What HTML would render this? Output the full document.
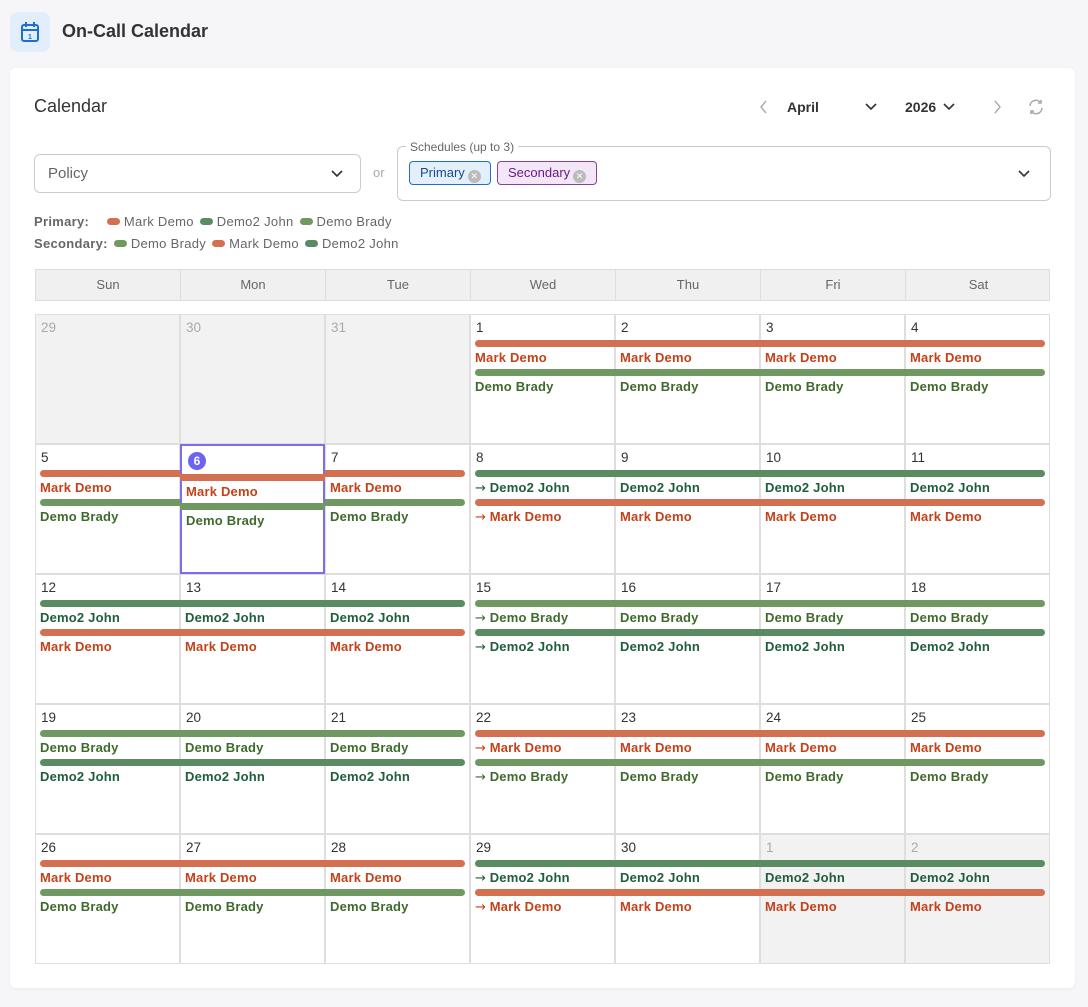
<!DOCTYPE html>
<html><head><meta charset="utf-8"><style>
*{box-sizing:border-box;margin:0;padding:0}
body{width:1088px;height:1007px;background:#f6f6f8;font-family:"Liberation Sans",sans-serif;position:relative;overflow:hidden;color:#333}
.abs{position:absolute}
.card{left:10px;top:68px;width:1065px;height:920px;background:#fff;border-radius:6px;box-shadow:0 1px 3px rgba(0,0,0,.06)}
.hdr{left:35px;top:269px;width:1015px;height:32px;display:grid;grid-template-columns:repeat(7,145px);background:#f0f0f0;border:1px solid #ddd}
.hdr div{border-right:1px solid #ddd;text-align:center;font-size:13px;color:#666;line-height:30px}
.hdr div:last-child{border-right:none}
.grid{left:35px;top:314px;width:1015px;display:grid;grid-template-columns:repeat(7,145px);grid-auto-rows:130px}
.c{border:1px solid #dedede;position:relative;background:#fff}
.c.o{background:#f2f2f2}
.d{position:absolute;left:5px;top:5px;font-size:13.5px;color:#333}
.o .d{color:#aaa}
.b{position:absolute;height:7px;left:-1px;right:-1px}
.b.s{left:4px;border-top-left-radius:4px;border-bottom-left-radius:4px}
.b.e{right:4px;border-top-right-radius:4px;border-bottom-right-radius:4px}
.b1{top:25px}.b2{top:54px}
.t{position:absolute;left:4px;font-size:13px;font-weight:bold;white-space:nowrap;letter-spacing:0.2px}
.t1{top:35px}.t2{top:64px}
.t a{font-family:"DejaVu Sans",sans-serif;font-weight:normal;font-size:13px;letter-spacing:0}
.M{background:#d37052}.J{background:#5b8b63}.B{background:#6f9862}
.tM{color:#c4421a}.tJ{color:#1f5d3b}.tB{color:#3e6a2c}
.leg{font-size:13px;color:#666;letter-spacing:0.3px}
.dot{display:inline-block;width:13px;height:7px;border-radius:4px;margin:0 4px 0 6px;vertical-align:1px}
.tag{position:absolute;top:161px;height:24px;border-radius:4px;font-size:13px;line-height:22px;padding-left:10px}
.x{display:inline-block;width:13px;height:13px;border-radius:50%;background:#bbb;color:#fff;font-size:9px;line-height:13px;text-align:center;margin-left:3px;vertical-align:-2px}
</style></head><body>
<div class="abs" style="left:10px;top:12px;width:40px;height:40px;background:#e2eefb;border-radius:8px"></div>
<svg class="abs" style="left:20px;top:21px" width="20" height="22" viewBox="0 0 20 22"><rect x="2" y="4" width="16" height="16" rx="2" fill="none" stroke="#1c6fd1" stroke-width="2"/><line x1="2" y1="9" x2="18" y2="9" stroke="#1c6fd1" stroke-width="2"/><line x1="6" y1="1" x2="6" y2="6" stroke="#1c6fd1" stroke-width="2"/><line x1="14" y1="1" x2="14" y2="6" stroke="#1c6fd1" stroke-width="2"/><text x="10" y="18" font-size="7" fill="#1c6fd1" text-anchor="middle" font-family="Liberation Sans" font-weight="bold">1</text></svg>
<div class="abs" style="left:62px;top:21px;font-size:18px;font-weight:bold;color:#333">On-Call Calendar</div>
<div class="abs card"></div>
<div class="abs" style="left:34px;top:96px;font-size:18px;color:#333">Calendar</div>
<svg class="abs" style="left:758px;top:99px" width="12" height="16"><path d="M8 2L3 8l5 6" fill="none" stroke="#aaa" stroke-width="1.4"/></svg>
<div class="abs" style="left:787px;top:99px;font-size:14px;font-weight:bold;color:#333">April</div>
<svg class="abs" style="left:864px;top:102px" width="14" height="9"><path d="M2 2l5 5 5-5" fill="none" stroke="#333" stroke-width="1.6"/></svg>
<div class="abs" style="left:905px;top:99px;font-size:14px;font-weight:bold;color:#333">2026</div>
<svg class="abs" style="left:942px;top:102px" width="14" height="9"><path d="M2 2l5 5 5-5" fill="none" stroke="#333" stroke-width="1.6"/></svg>
<svg class="abs" style="left:991px;top:99px" width="12" height="16"><path d="M4 2l5 6-5 6" fill="none" stroke="#aaa" stroke-width="1.4"/></svg>
<svg class="abs" style="left:1027px;top:98px" width="18" height="18" viewBox="0 0 18 18"><path d="M3 8a6 6 0 0 1 11-3M15 10a6 6 0 0 1-11 3" fill="none" stroke="#aaa" stroke-width="1.6"/><path d="M14 2v3h-3M4 16v-3h3" fill="none" stroke="#aaa" stroke-width="1.6"/></svg>
<div class="abs" style="left:34px;top:154px;width:327px;height:39px;border:1px solid #ccc;border-radius:6px"></div>
<div class="abs" style="left:48px;top:165px;font-size:15px;color:#666">Policy</div>
<svg class="abs" style="left:330px;top:169px" width="14" height="9"><path d="M2 2l5 5 5-5" fill="none" stroke="#333" stroke-width="1.6"/></svg>
<div class="abs" style="left:373px;top:165px;font-size:13px;color:#aaa">or</div>
<div class="abs" style="left:397px;top:146px;width:654px;height:55px;border:1px solid #ccc;border-radius:6px"></div>
<div class="abs" style="left:406px;top:140px;background:#fff;padding:0 4px;font-size:12px;color:#666">Schedules (up to 3)</div>
<div class="tag" style="left:409px;width:82px;background:#e3f0fc;border:1px solid #1c6fd1;color:#174a8a">Primary<span class="x">✕</span></div>
<div class="tag" style="left:497px;width:100px;background:#f3e6f6;border:1px solid #8a3fa0;color:#6a1b8a">Secondary<span class="x">✕</span></div>
<svg class="abs" style="left:1017px;top:169px" width="14" height="9"><path d="M2 2l5 5 5-5" fill="none" stroke="#333" stroke-width="1.6"/></svg>
<div class="abs leg" style="left:34px;top:214px"><b>Primary:</b> &nbsp;&nbsp;<span class="dot M"></span>Mark Demo<span class="dot J"></span>Demo2 John<span class="dot B"></span>Demo Brady</div>
<div class="abs leg" style="left:34px;top:236px"><b>Secondary:</b><span class="dot B"></span>Demo Brady<span class="dot M"></span>Mark Demo<span class="dot J"></span>Demo2 John</div>
<div class="abs hdr"><div>Sun</div><div>Mon</div><div>Tue</div><div>Wed</div><div>Thu</div><div>Fri</div><div>Sat</div></div>
<div class="abs grid">
<div class="c o"><span class="d">29</span></div>
<div class="c o"><span class="d">30</span></div>
<div class="c o"><span class="d">31</span></div>
<div class="c"><span class="d">1</span><i class="b b1 s M"></i><span class="t t1 tM">Mark Demo</span><i class="b b2 s B"></i><span class="t t2 tB">Demo Brady</span></div>
<div class="c"><span class="d">2</span><i class="b b1 M"></i><span class="t t1 tM">Mark Demo</span><i class="b b2 B"></i><span class="t t2 tB">Demo Brady</span></div>
<div class="c"><span class="d">3</span><i class="b b1 M"></i><span class="t t1 tM">Mark Demo</span><i class="b b2 B"></i><span class="t t2 tB">Demo Brady</span></div>
<div class="c"><span class="d">4</span><i class="b b1 e M"></i><span class="t t1 tM">Mark Demo</span><i class="b b2 e B"></i><span class="t t2 tB">Demo Brady</span></div>
<div class="c"><span class="d">5</span><i class="b b1 s M"></i><span class="t t1 tM">Mark Demo</span><i class="b b2 s B"></i><span class="t t2 tB">Demo Brady</span></div>
<div class="c" style="border:2px solid #7b6cf0"><span style="position:absolute;left:6px;top:6px;width:18px;height:18px;border-radius:50%;background:#6c63f0;color:#fff;font-size:12px;font-weight:bold;text-align:center;line-height:18px">6</span><i class="b M" style="top:28px;left:-2px;right:-2px"></i><span class="t tM" style="top:38px">Mark Demo</span><i class="b B" style="top:57px;left:-2px;right:-2px"></i><span class="t tB" style="top:67px">Demo Brady</span></div>
<div class="c"><span class="d">7</span><i class="b b1 e M"></i><span class="t t1 tM">Mark Demo</span><i class="b b2 e B"></i><span class="t t2 tB">Demo Brady</span></div>
<div class="c"><span class="d">8</span><i class="b b1 s J"></i><span class="t t1 tJ"><a>→</a> Demo2 John</span><i class="b b2 s M"></i><span class="t t2 tM"><a>→</a> Mark Demo</span></div>
<div class="c"><span class="d">9</span><i class="b b1 J"></i><span class="t t1 tJ">Demo2 John</span><i class="b b2 M"></i><span class="t t2 tM">Mark Demo</span></div>
<div class="c"><span class="d">10</span><i class="b b1 J"></i><span class="t t1 tJ">Demo2 John</span><i class="b b2 M"></i><span class="t t2 tM">Mark Demo</span></div>
<div class="c"><span class="d">11</span><i class="b b1 e J"></i><span class="t t1 tJ">Demo2 John</span><i class="b b2 e M"></i><span class="t t2 tM">Mark Demo</span></div>
<div class="c"><span class="d">12</span><i class="b b1 s J"></i><span class="t t1 tJ">Demo2 John</span><i class="b b2 s M"></i><span class="t t2 tM">Mark Demo</span></div>
<div class="c"><span class="d">13</span><i class="b b1 J"></i><span class="t t1 tJ">Demo2 John</span><i class="b b2 M"></i><span class="t t2 tM">Mark Demo</span></div>
<div class="c"><span class="d">14</span><i class="b b1 e J"></i><span class="t t1 tJ">Demo2 John</span><i class="b b2 e M"></i><span class="t t2 tM">Mark Demo</span></div>
<div class="c"><span class="d">15</span><i class="b b1 s B"></i><span class="t t1 tB"><a>→</a> Demo Brady</span><i class="b b2 s J"></i><span class="t t2 tJ"><a>→</a> Demo2 John</span></div>
<div class="c"><span class="d">16</span><i class="b b1 B"></i><span class="t t1 tB">Demo Brady</span><i class="b b2 J"></i><span class="t t2 tJ">Demo2 John</span></div>
<div class="c"><span class="d">17</span><i class="b b1 B"></i><span class="t t1 tB">Demo Brady</span><i class="b b2 J"></i><span class="t t2 tJ">Demo2 John</span></div>
<div class="c"><span class="d">18</span><i class="b b1 e B"></i><span class="t t1 tB">Demo Brady</span><i class="b b2 e J"></i><span class="t t2 tJ">Demo2 John</span></div>
<div class="c"><span class="d">19</span><i class="b b1 s B"></i><span class="t t1 tB">Demo Brady</span><i class="b b2 s J"></i><span class="t t2 tJ">Demo2 John</span></div>
<div class="c"><span class="d">20</span><i class="b b1 B"></i><span class="t t1 tB">Demo Brady</span><i class="b b2 J"></i><span class="t t2 tJ">Demo2 John</span></div>
<div class="c"><span class="d">21</span><i class="b b1 e B"></i><span class="t t1 tB">Demo Brady</span><i class="b b2 e J"></i><span class="t t2 tJ">Demo2 John</span></div>
<div class="c"><span class="d">22</span><i class="b b1 s M"></i><span class="t t1 tM"><a>→</a> Mark Demo</span><i class="b b2 s B"></i><span class="t t2 tB"><a>→</a> Demo Brady</span></div>
<div class="c"><span class="d">23</span><i class="b b1 M"></i><span class="t t1 tM">Mark Demo</span><i class="b b2 B"></i><span class="t t2 tB">Demo Brady</span></div>
<div class="c"><span class="d">24</span><i class="b b1 M"></i><span class="t t1 tM">Mark Demo</span><i class="b b2 B"></i><span class="t t2 tB">Demo Brady</span></div>
<div class="c"><span class="d">25</span><i class="b b1 e M"></i><span class="t t1 tM">Mark Demo</span><i class="b b2 e B"></i><span class="t t2 tB">Demo Brady</span></div>
<div class="c"><span class="d">26</span><i class="b b1 s M"></i><span class="t t1 tM">Mark Demo</span><i class="b b2 s B"></i><span class="t t2 tB">Demo Brady</span></div>
<div class="c"><span class="d">27</span><i class="b b1 M"></i><span class="t t1 tM">Mark Demo</span><i class="b b2 B"></i><span class="t t2 tB">Demo Brady</span></div>
<div class="c"><span class="d">28</span><i class="b b1 e M"></i><span class="t t1 tM">Mark Demo</span><i class="b b2 e B"></i><span class="t t2 tB">Demo Brady</span></div>
<div class="c"><span class="d">29</span><i class="b b1 s J"></i><span class="t t1 tJ"><a>→</a> Demo2 John</span><i class="b b2 s M"></i><span class="t t2 tM"><a>→</a> Mark Demo</span></div>
<div class="c"><span class="d">30</span><i class="b b1 J"></i><span class="t t1 tJ">Demo2 John</span><i class="b b2 M"></i><span class="t t2 tM">Mark Demo</span></div>
<div class="c o"><span class="d">1</span><i class="b b1 J"></i><span class="t t1 tJ">Demo2 John</span><i class="b b2 M"></i><span class="t t2 tM">Mark Demo</span></div>
<div class="c o"><span class="d">2</span><i class="b b1 e J"></i><span class="t t1 tJ">Demo2 John</span><i class="b b2 e M"></i><span class="t t2 tM">Mark Demo</span></div>
</div>
</body></html>
